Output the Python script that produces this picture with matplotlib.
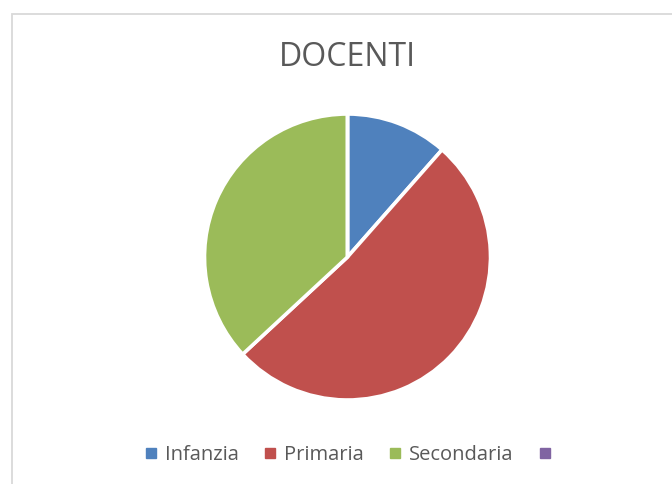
import matplotlib.pyplot as plt
from matplotlib.lines import Line2D
from matplotlib.patches import Rectangle

# -----------------------------
# Data
# -----------------------------
labels = ["Infanzia", "Primaria", "Secondaria", ""]
values = [11.5, 51.6, 36.9, 0.0]
colors = ["#4F81BD", "#C0504D", "#9BBB59", "#8064A2"]
title = "DOCENTI"

plt.rcParams['font.family'] = ['Open Sans', 'DejaVu Sans']

W, H = 672, 484
fig = plt.figure(figsize=(W / 100, H / 100), dpi=100)

# chart area border (light grey, runs off the right and bottom edges)
fig.patches.append(Rectangle((11.5 / W, -0.1), 1.2, (H - 13.5) / H + 0.1,
                             transform=fig.transFigure, fill=False,
                             edgecolor="#D9D9D9", linewidth=1.3))

# pie: centre (347.5, 257) px, radius 143 px
cx, cy, r = 347.5, 257, 143
ax = fig.add_axes([(cx - r) / W, (H - cy - r) / H, 2 * r / W, 2 * r / H])
ax.pie(values, colors=colors, startangle=90, counterclock=False, radius=1,
       wedgeprops=dict(edgecolor="white", linewidth=2.6))
ax.set_xlim(-1, 1)
ax.set_ylim(-1, 1)
ax.axis("off")

fig.text(cx / W, 1 - 57 / H, title, ha="center", va="center",
         fontsize=23, color="#595959")

handles = [Line2D([], [], marker="s", linestyle="", markersize=6.5,
                  color=c) for c in colors]
fig.legend(handles, labels, loc="center", bbox_to_anchor=(352 / W, 1 - 455 / H),
           ncol=4, frameon=False, fontsize=14.5, handlelength=0.6,
           handletextpad=0.4, columnspacing=1.25, labelcolor="#595959")

fig.savefig("out.png", dpi=100)
